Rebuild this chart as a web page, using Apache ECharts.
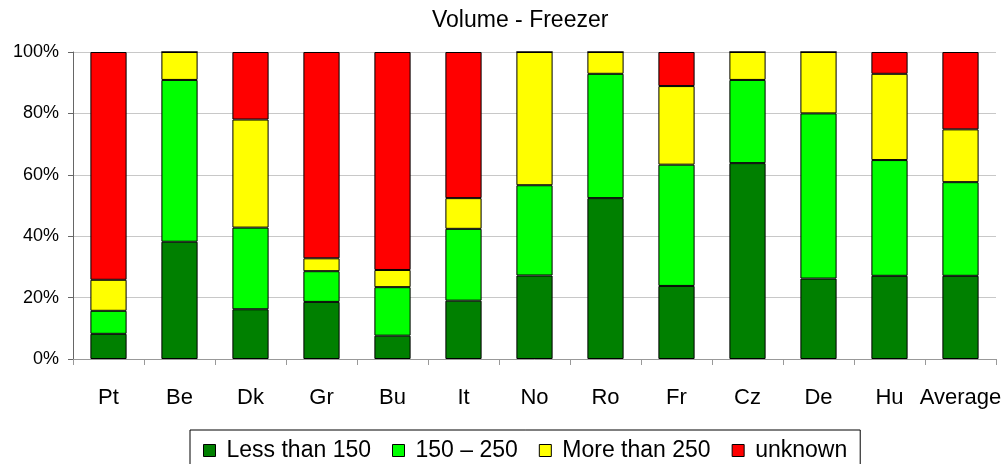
<!DOCTYPE html>
<html>
<head>
<meta charset="utf-8">
<script src="https://cdn.jsdelivr.net/npm/echarts@6/dist/echarts.min.js"></script>
<style>
html,body{margin:0;padding:0;background:#fff;}
#chart{width:1007px;height:464px;}
</style>
</head>
<body>
<div id="chart"></div>
<script>
const categories = ['Pt','Be','Dk','Gr','Bu','It','No','Ro','Fr','Cz','De','Hu','Average'];
const lessThan150 = [8.2, 38.2, 16.2, 18.6, 7.6, 19.0, 27.2, 52.4, 23.8, 63.8, 26.2, 27.1, 27.1];
const from150to250 = [7.5, 52.7, 26.6, 10.0, 15.8, 23.4, 29.4, 40.5, 39.5, 27.1, 53.8, 37.7, 30.5];
const moreThan250 = [10.1, 9.1, 35.2, 4.2, 5.6, 10.0, 43.4, 7.1, 25.6, 9.1, 20.0, 28.1, 17.2];
const unknown = [74.2, 0, 22.0, 67.2, 71.0, 47.6, 0, 0, 11.1, 0, 0, 7.1, 25.2];
const seriesNames = ['Less than 150', '150 \u2013 250', 'More than 250', 'unknown'];
const yTicks = [0, 20, 40, 60, 80, 100];

const FONT = 'Liberation Sans, Arial, sans-serif';
const colors = ['#008000', '#00FF00', '#FFFF00', '#FF0000'];
const dataSets = [lessThan150, from150to250, moreThan250, unknown];

const chart = echarts.init(document.getElementById('chart'), null, {renderer: 'canvas'});
chart.setOption({
  animation: false,
  backgroundColor: '#fff',
  title: {
    text: 'Volume - Freezer',
    left: 432,
    top: 9,
    padding: 0,
    textStyle: {fontFamily: FONT, fontSize: 23, fontWeight: 'normal', color: '#000'}
  },
  legend: {
    left: 190,
    top: 430,
    padding: [9, 13, 9, 13],
    borderColor: '#000',
    borderWidth: 1,
    itemWidth: 12,
    itemHeight: 12,
    itemGap: 21,
    icon: 'rect',
    itemStyle: {borderColor: '#000', borderWidth: 1},
    textStyle: {fontFamily: FONT, fontSize: 23, color: '#000', padding: [0, 0, 0, 6]},
    data: seriesNames
  },
  grid: {left: 73, right: 11, top: 52, bottom: 105, containLabel: false},
  xAxis: {
    type: 'category',
    data: categories,
    axisLine: {lineStyle: {color: '#999', width: 1}},
    axisTick: {show: true, length: 6, interval: 0, lineStyle: {color: '#999'}},
    axisLabel: {fontFamily: FONT, fontSize: 22, color: '#000', margin: 28, interval: 0, hideOverlap: false},
    splitLine: {show: false}
  },
  yAxis: {
    type: 'value',
    min: yTicks[0],
    max: yTicks[yTicks.length - 1],
    interval: 20,
    axisLine: {show: true, lineStyle: {color: '#666', width: 1}},
    axisTick: {show: true, length: 5, lineStyle: {color: '#666'}},
    axisLabel: {fontFamily: FONT, fontSize: 18, color: '#000', margin: 14, formatter: '{value}%'},
    splitLine: {show: true, lineStyle: {color: '#c8c8c8', width: 1}}
  },
  series: dataSets.map((d, i) => ({
    name: seriesNames[i],
    type: 'bar',
    stack: 'total',
    barWidth: '51%',
    data: d,
    itemStyle: {color: colors[i], borderColor: '#000', borderWidth: 1}
  }))
});
</script>
</body>
</html>
